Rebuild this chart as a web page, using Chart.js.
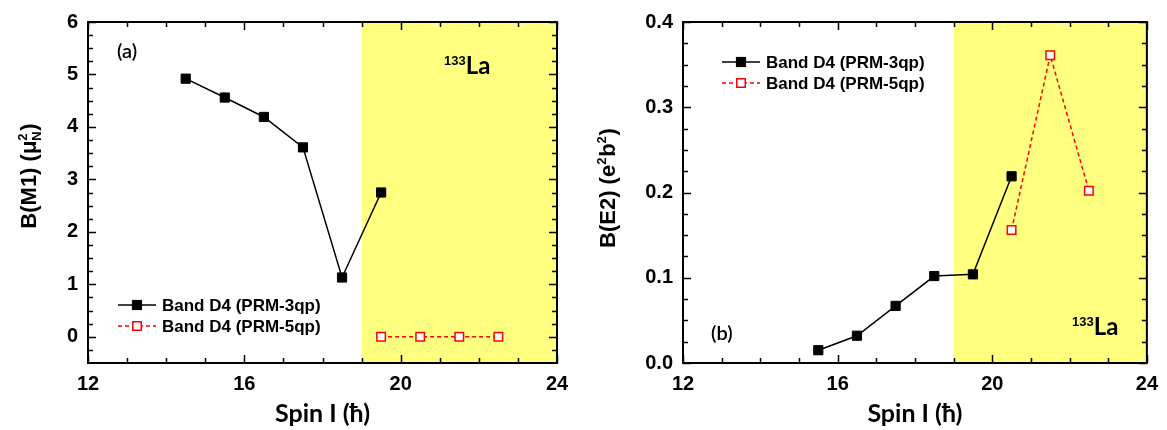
<!DOCTYPE html>
<html>
<head>
<meta charset="utf-8">
<script src="https://cdn.jsdelivr.net/npm/chart.js@4/dist/chart.umd.min.js"></script>
<style>
	html, body { margin: 0; padding: 0; background: #fff; }
	#wrap { position: relative; width: 1167px; height: 430px; }
	.panel { position: absolute; top: 0; height: 430px; }
	#panel-m1 { left: 0; width: 583px; }
	#panel-e2 { left: 583px; width: 584px; }
</style>
</head>
<body>
<div id="wrap">
	<div class="panel" id="panel-m1"><canvas id="m1Chart"></canvas></div>
	<div class="panel" id="panel-e2"><canvas id="e2Chart"></canvas></div>
</div>
<script>
// values
const seriesLabels = ['Band D4 (PRM-3qp)', 'Band D4 (PRM-5qp)'];

const m1Spin3qp = [14.5, 15.5, 16.5, 17.5, 18.5, 19.5];
const m1Value3qp = [4.92, 4.56, 4.19, 3.61, 1.13, 2.75];
const m1Spin5qp = [19.5, 20.5, 21.5, 22.5];
const m1Value5qp = [0, 0, 0, 0];

const e2Spin3qp = [15.5, 16.5, 17.5, 18.5, 19.5, 20.5];
const e2Value3qp = [0.015, 0.032, 0.067, 0.102, 0.104, 0.219];
const e2Spin5qp = [20.5, 21.5, 22.5];
const e2Value5qp = [0.156, 0.361, 0.202];

const spinTicks = [12, 16, 20, 24];
const spinMinorTicks = [13, 14, 15, 17, 18, 19, 21, 22, 23];
const m1Ticks = [0, 1, 2, 3, 4, 5, 6];
const e2Ticks = [0, 0.1, 0.2, 0.3, 0.4];
const highSpinFrom = 19;

(() => {
	'use strict'

	const tickFont = { family: 'Arial, "Liberation Sans"', weight: 'bold', size: 20 };
	const titleFont = { family: 'Lato', weight: 'bold', size: 25 };

	function toPoints(xs, ys) {
		return xs.map((x, i) => ({ x: x, y: ys[i] }));
	}

	function minorRange(min, max, step) {
		const out = [];
		const n = Math.round((max - min) / step);
		for (let i = 0; i <= n; i++) {
			out.push(+(min + i * step).toFixed(4));
		}
		return out;
	}

	// yellow band, box frame with inward ticks, labels and legend
	const framePlugin = {
		id: 'frame',
		beforeDatasetsDraw(chart, args, opts) {
			const { ctx, chartArea: a, scales: { x } } = chart;
			const x0 = x.getPixelForValue(opts.bandFrom);
			ctx.save();
			ctx.fillStyle = '#ffff80';
			ctx.fillRect(x0, a.top, a.right - x0, a.bottom - a.top);
			ctx.restore();
		},
		afterDatasetsDraw(chart, args, opts) {
			const { ctx, chartArea: a, scales: { x, y } } = chart;
			ctx.save();
			ctx.strokeStyle = '#000';
			ctx.lineWidth = 2;
			ctx.strokeRect(a.left, a.top, a.right - a.left, a.bottom - a.top);

			ctx.lineWidth = 1.5;
			ctx.beginPath();
			const xMarks = spinTicks.map(v => [v, 8]).concat(spinMinorTicks.map(v => [v, 5]));
			xMarks.forEach(([v, len]) => {
				const px = Math.round(x.getPixelForValue(v)) + 0.5;
				ctx.moveTo(px, a.bottom); ctx.lineTo(px, a.bottom - len);
				ctx.moveTo(px, a.top); ctx.lineTo(px, a.top + len);
			});
			opts.yMinor.forEach(v => {
				const len = opts.yMajor.some(m => Math.abs(m - v) < 1e-6) ? 8 : 5;
				const py = Math.round(y.getPixelForValue(v)) + 0.5;
				ctx.moveTo(a.left, py); ctx.lineTo(a.left + len, py);
				ctx.moveTo(a.right, py); ctx.lineTo(a.right - len, py);
			});
			ctx.stroke();

			// y axis title with super/subscripts
			ctx.save();
			ctx.translate(opts.yTitle.x, opts.yTitle.y);
			ctx.rotate(-Math.PI / 2);
			ctx.fillStyle = '#000';
			ctx.textBaseline = 'alphabetic';
			const big = 'bold 22px Arial, "Liberation Sans"';
			const small = 'bold 13px Arial, "Liberation Sans"';
			let w = 0;
			opts.yTitle.parts.forEach(p => {
				ctx.font = p.type === 'n' ? big : small;
				const pw = ctx.measureText(p.text).width;
				if (p.type === 'n') w += pw;
				else if (p.advance) w += Math.max(pw, p.advance);
			});
			let cx = -w / 2;
			const base = 8;
			opts.yTitle.parts.forEach(p => {
				ctx.font = p.type === 'n' ? big : small;
				const pw = ctx.measureText(p.text).width;
				const dy = p.type === 'sup' ? -9 : (p.type === 'sub' ? 5 : 0);
				ctx.fillText(p.text, cx, base + dy);
				if (p.type === 'n') cx += pw;
				else if (p.advance) cx += Math.max(pw, p.advance);
			});
			ctx.restore();

			// panel letter
			ctx.fillStyle = '#000';
			ctx.textBaseline = 'middle';
			ctx.textAlign = 'left';
			ctx.font = '600 20px Lato';
			ctx.fillText(opts.panel.text, a.left + opts.panel.dx, a.top + opts.panel.dy);

			// nucleus label
			ctx.textBaseline = 'alphabetic';
			ctx.font = 'bold 13px Arial, "Liberation Sans"';
			const nx = a.left + opts.nucleus.dx;
			const ny = a.top + opts.nucleus.dy;
			ctx.fillText('133', nx, ny - 9);
			const sw = ctx.measureText('133').width;
			ctx.font = 'bold 24px Lato';
			ctx.fillText('La', nx + sw, ny);

			// legend
			ctx.font = 'bold 17px Arial, "Liberation Sans"';
			ctx.textBaseline = 'middle';
			chart.data.datasets.forEach((ds, i) => {
				const ly = a.top + opts.legend.dy + i * opts.legend.gap;
				const lx0 = a.left + opts.legend.dx;
				const lx1 = lx0 + 38;
				ctx.strokeStyle = ds.borderColor;
				ctx.lineWidth = ds.borderWidth;
				ctx.setLineDash(ds.borderDash || []);
				ctx.beginPath();
				ctx.moveTo(lx0, ly); ctx.lineTo(lx1, ly);
				ctx.stroke();
				ctx.setLineDash([]);
				const mx = (lx0 + lx1) / 2;
				const s = ds.pointRadius * Math.SQRT1_2;
				ctx.fillStyle = ds.pointBackgroundColor;
				ctx.fillRect(mx - s, ly - s, 2 * s, 2 * s);
				ctx.strokeStyle = ds.pointBorderColor;
				ctx.lineWidth = ds.pointBorderWidth;
				ctx.strokeRect(mx - s, ly - s, 2 * s, 2 * s);
				ctx.fillStyle = '#000';
				ctx.fillText(ds.label, lx1 + 6, ly + 1);
			});
			ctx.restore();
		}
	};

	function makeDatasets(p3, p5) {
		return [
			{
				label: seriesLabels[0],
				data: p3,
				showLine: true,
				borderColor: '#000',
				borderWidth: 1.5,
				pointStyle: 'rect',
				pointRadius: 6.5,
				pointBackgroundColor: '#000',
				pointBorderColor: '#000',
				pointBorderWidth: 1
			},
			{
				label: seriesLabels[1],
				data: p5,
				showLine: true,
				borderColor: '#ff0000',
				borderWidth: 1.5,
				borderDash: [4, 3],
				pointStyle: 'rect',
				pointRadius: 6,
				pointBackgroundColor: '#fff',
				pointBorderColor: '#ff0000',
				pointBorderWidth: 1.5
			}
		];
	}

	function makeChart(canvas, cfg) {
		return new Chart(canvas, {
			type: 'scatter',
			data: { datasets: cfg.datasets },
			options: {
				responsive: true,
				maintainAspectRatio: false,
				animation: false,
				layout: { padding: { top: cfg.top, right: cfg.right, left: 0, bottom: 0 } },
				plugins: {
					legend: { display: false },
					tooltip: { enabled: false },
					frame: cfg.frame
				},
				scales: {
					x: {
						type: 'linear',
						min: 12,
						max: 24,
						grid: { display: false, drawTicks: false },
						border: { display: false },
						afterBuildTicks: function(scale) {
							scale.ticks = spinTicks.map(v => ({ value: v }));
						},
						afterFit: function(scale) {
							scale.height = 430 - 363;
						},
						ticks: { color: '#000', font: tickFont, padding: 9, maxRotation: 0 },
						title: {
							display: true,
							text: 'Spin I (ħ)',
							color: '#000',
							font: titleFont,
							padding: { top: 0, bottom: 1 }
						}
					},
					y: {
						type: 'linear',
						min: cfg.yMin,
						max: cfg.yMax,
						grid: { display: false, drawTicks: false },
						border: { display: false },
						afterBuildTicks: function(scale) {
							scale.ticks = cfg.yTicks.map(v => ({ value: v }));
						},
						afterFit: function(scale) {
							scale.width = cfg.left;
						},
						ticks: {
							color: '#000',
							font: tickFont,
							padding: 10,
							callback: cfg.yFormat
						}
					}
				}
			},
			plugins: [framePlugin]
		});
	}

	makeChart(document.getElementById('m1Chart'), {
		datasets: makeDatasets(toPoints(m1Spin3qp, m1Value3qp), toPoints(m1Spin5qp, m1Value5qp)),
		top: 18,
		right: 26,
		left: 88,
		yMin: -0.5,
		yMax: 6,
		yTicks: m1Ticks,
		yFormat: v => String(v),
		frame: {
			bandFrom: highSpinFrom,
			yMajor: m1Ticks,
			yMinor: minorRange(-0.25, 6, 0.25),
			yTitle: {
				x: 28,
				y: 176,
				parts: [
					{ type: 'n', text: 'B(M1) (μ' },
					{ type: 'sup', text: '2' },
					{ type: 'sub', text: 'N', advance: 10 },
					{ type: 'n', text: ')' }
				]
			},
			panel: { text: '(a)', dx: 29, dy: 30 },
			nucleus: { dx: 356, dy: 52 },
			legend: { dx: 30, dy: 283, gap: 21 }
		}
	});

	makeChart(document.getElementById('e2Chart'), {
		datasets: makeDatasets(toPoints(e2Spin3qp, e2Value3qp), toPoints(e2Spin5qp, e2Value5qp)),
		top: 19,
		right: 16,
		left: 100,
		yMin: 0,
		yMax: 0.4,
		yTicks: e2Ticks,
		yFormat: v => v.toFixed(1),
		frame: {
			bandFrom: highSpinFrom,
			yMajor: e2Ticks,
			yMinor: minorRange(0, 0.4, 0.025),
			yTitle: {
				x: 24,
				y: 188,
				parts: [
					{ type: 'n', text: 'B(E2) (e' },
					{ type: 'sup', text: '2', advance: 8 },
					{ type: 'n', text: 'b' },
					{ type: 'sup', text: '2', advance: 8 },
					{ type: 'n', text: ')' }
				]
			},
			panel: { text: '(b)', dx: 28, dy: 312 },
			nucleus: { dx: 389, dy: 313 },
			legend: { dx: 39, dy: 40, gap: 21 }
		}
	});
})()
</script>
</body>
</html>
